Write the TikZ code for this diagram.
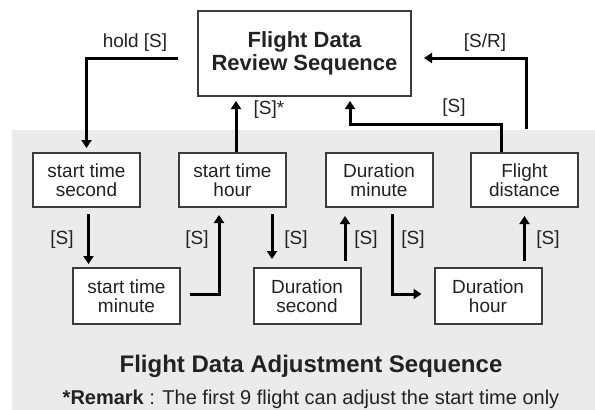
\documentclass[tikz,border=0pt]{standalone}
\usepackage{fontspec}
\setmainfont{Liberation Sans}
\usetikzlibrary{arrows.meta}
\definecolor{bggray}{HTML}{EBEBEB}
\definecolor{boxgray}{HTML}{3C3C3C}
\definecolor{txtgray}{HTML}{222222}
\begin{document}
\begin{tikzpicture}[x=1pt,y=-1pt,
  box/.style={draw=boxgray, line width=2pt, fill=white, minimum width=107pt,
    minimum height=54pt, align=center, inner sep=0pt, text=txtgray,
    font=\fontsize{19}{19}\selectfont},
  flow/.style={line width=3pt, -{Triangle[length=8pt,width=10pt]}, line join=miter},
  lbl/.style={font=\fontsize{19}{19}\selectfont, text=txtgray, inner sep=0pt}]
\useasboundingbox (0,0) rectangle (595,410);
\fill[bggray] (12,130) rectangle (595,410);

% nodes
\node[box, minimum width=213pt, minimum height=85pt,
  font=\bfseries\fontsize{22}{23}\selectfont] (rev) at (304.5,53.5) {Flight Data\\Review Sequence};
\node[box] (sts) at (86.5,180) {start time\\second};
\node[box] (sth) at (232.5,180) {start time\\hour};
\node[box] (dm) at (379,180) {Duration\\minute};
\node[box] (fd) at (524.5,180) {Flight\\distance};
\node[box, minimum height=56pt] (stm) at (126.5,296) {start time\\minute};
\node[box, minimum height=56pt] (ds) at (307,296) {Duration\\second};
\node[box, minimum height=56pt] (dh) at (488,296) {Duration\\hour};

% connectors
\coordinate (h0) at (178,58);
\draw[flow, shorten >=4pt] (h0) -| (sts.north);
\draw[flow, shorten <=6pt, shorten >=3pt] ([xshift=2pt]sts.south) -- ([xshift=2pt]sts.south |- stm.north);
\draw[flow, shorten <=9pt, shorten >=7pt] ([yshift=2pt]stm.east) -| ([xshift=-13.5pt]sth.south);
\draw[flow, shorten <=6pt, shorten >=8pt] ([xshift=39.5pt]sth.south) -- ([xshift=39.5pt]sth.south |- ds.north);
\draw[flow, shorten <=6pt, shorten >=8pt] ([xshift=38pt]ds.north) -- ([xshift=38pt]ds.north |- dm.south);
\draw[flow, shorten <=6pt, shorten >=12pt] ([xshift=13pt]dm.south) |- ([yshift=2pt]dh.west);
\draw[flow, shorten <=6pt, shorten >=8pt] (dh.north -| fd.south) -- (fd.south);
\draw[flow, shorten >=4pt] ([xshift=3.5pt]sth.north) -- ([xshift=3.5pt]sth.north |- rev.south);
\draw[flow, shorten >=4pt] ([xshift=-23.5pt]fd.north) -- ++(0,-28) -| ([xshift=45.5pt]rev.south);
\coordinate (sr0) at (526,129);
\draw[flow, shorten >=12pt] (sr0) |- ([yshift=-4.5pt]rev.east);

% labels
\node[lbl] (lhold) at (135,43) {hold [S]};
\node[lbl] (lsr) at (485,43) {[S/R]};
\node[lbl] (lsstar) at (269,110) {[S]*};
\node[lbl] (lsfd) at (454,108) {[S]};
\node[lbl] (ls1) at (62,240) {[S]};
\node[lbl] (ls2) at (197,240) {[S]};
\node[lbl] (ls3) at (296,240) {[S]};
\node[lbl] (ls4) at (366,240) {[S]};
\node[lbl] (ls5) at (413,240) {[S]};
\node[lbl] (ls6) at (548,240) {[S]};

% captions
\node[font=\bfseries\fontsize{24}{24}\selectfont, text=txtgray, inner sep=0pt] (title) at (311,366) {Flight Data Adjustment Sequence};
\node[font=\fontsize{20}{20}\selectfont, text=txtgray, inner sep=0pt] (remark) at (311,399) {\textbf{*Remark} : The first 9 flight can adjust the start time only};
\end{tikzpicture}
\end{document}
